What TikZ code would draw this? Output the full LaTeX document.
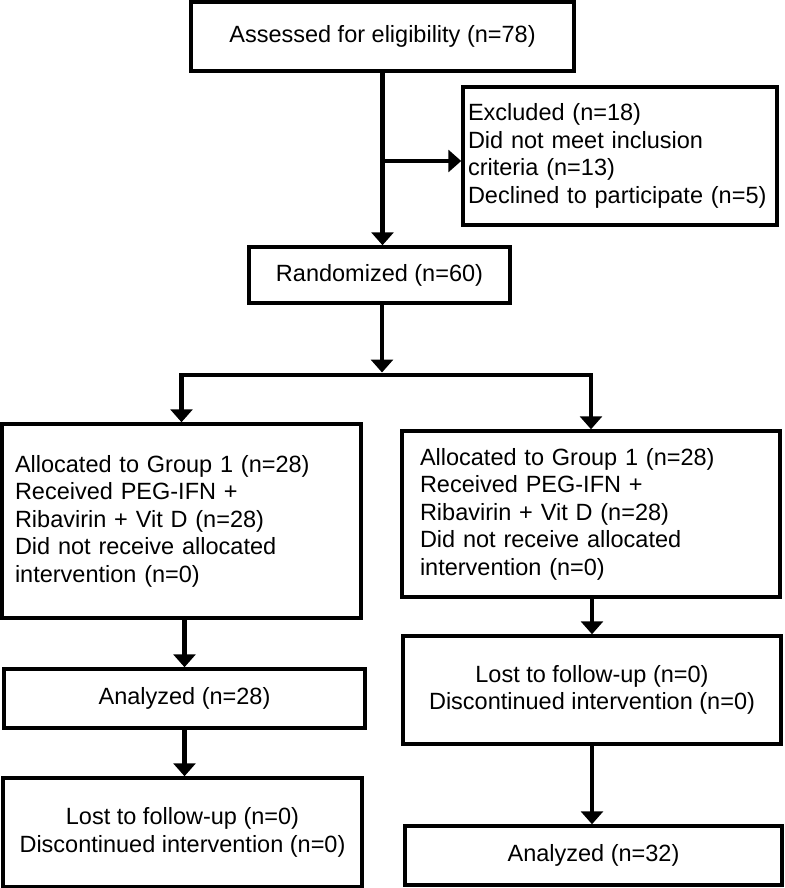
\documentclass[tikz,border=0pt]{standalone}
\usepackage{fontspec}
\setmainfont{Liberation Sans}
\usetikzlibrary{arrows.meta}

\begin{document}
\begin{tikzpicture}[x=1pt, y=-1pt,
	every node/.style={font=\fontsize{23.5}{27.5}\selectfont},
	flowbox/.style={draw, line width=3.5pt, inner sep=0pt, align=center},
	listbox/.style={draw, line width=3.5pt, inner xsep=16pt, inner ysep=0pt, align=left},
	conn/.style={line width=4.5pt},
	arr/.style={conn, -{Triangle[width=22pt,length=13pt]}}]
	\useasboundingbox (0,0) rectangle (784,888);
	\node[flowbox, minimum width=383pt, minimum height=69pt] (assess) at (382.5,36.5) {Assessed for eligibility (n=78)};
	\node[listbox, inner xsep=5pt, text width=304pt, minimum height=138pt] (excl) at (620,156) {Excluded (n=18)\\ Did not meet inclusion\\ criteria (n=13)\\ Declined to participate (n=5)};
	\node[flowbox, minimum width=261pt, minimum height=56pt] (rand) at (379.5,275) {Randomized (n=60)};
	\node[listbox, inner xsep=13pt, text width=333pt, minimum height=194pt] (grp1) at (181.5,521) {Allocated to Group 1 (n=28)\\ Received PEG-IFN +\\ Ribavirin + Vit D (n=28)\\ Did not receive allocated\\ intervention (n=0)};
	\node[listbox, inner xsep=18pt, text width=342pt, minimum height=166pt] (grp2) at (591,514) {Allocated to Group 1 (n=28)\\ Received PEG-IFN +\\ Ribavirin + Vit D (n=28)\\ Did not receive allocated\\ intervention (n=0)};
	\node[flowbox, minimum width=361pt, minimum height=59pt] (ana1) at (184.5,698.5) {Analyzed (n=28)};
	\node[flowbox, minimum width=359pt, minimum height=109pt] (lost1) at (182.5,832.5) {Lost to follow-up (n=0)\\ Discontinued intervention (n=0)};
	\node[flowbox, minimum width=378pt, minimum height=108pt] (lost2) at (592,690) {Lost to follow-up (n=0)\\ Discontinued intervention (n=0)};
	\node[flowbox, minimum width=377pt, minimum height=59pt] (ana2) at (593.5,855.5) {Analyzed (n=32)};
	\coordinate (brk) at (382,161);
	\coordinate (split) at (382,375);
	\draw[arr] (assess.south) -- (assess.south |- rand.north);
	\draw[arr] (brk) -- (brk -| excl.west);
	\draw[arr, shorten >=2.5pt] (split |- rand.south) -- (split);
	\draw[conn, line cap=rect] (split -| grp1.north) -- (split -| grp2.north);
	\draw[arr] (split -| grp1.north) -- (grp1.north);
	\draw[arr] (split -| grp2.north) -- (grp2.north);
	\draw[arr] (ana1.north |- grp1.south) -- (ana1.north);
	\draw[arr] (ana1.south) -- (ana1.south |- lost1.north);
	\draw[arr] (lost2.north |- grp2.south) -- (lost2.north);
	\draw[arr] (lost2.south) -- (lost2.south |- ana2.north);
\end{tikzpicture}
\end{document}
